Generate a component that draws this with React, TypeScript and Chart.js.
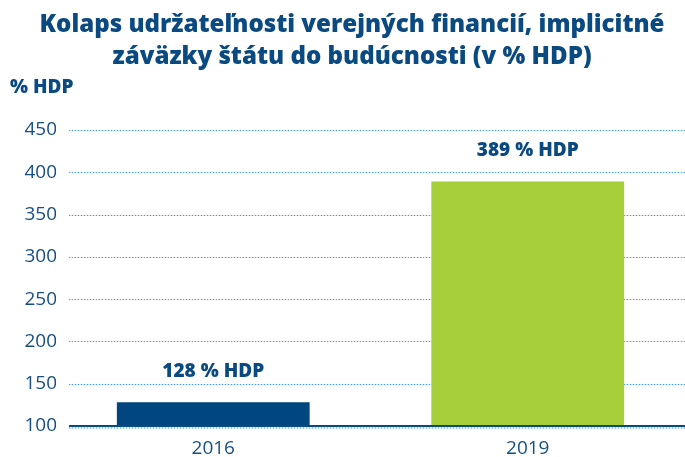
import React, { useEffect, useRef } from "react";
import { Chart, registerables } from "chart.js";

Chart.register(...registerables);

const titleLines = [
  "Kolaps udržateľnosti verejných financií, implicitné",
  "záväzky štátu do budúcnosti (v % HDP)",
];
const unitLabel = "% HDP";
const categories = ["2016", "2019"];
const values = [128, 389];
const valueLabels = ["128 % HDP", "389 % HDP"];
const barColors = ["#00467f", "#a6ce39"];
const yTicks = [100, 150, 200, 250, 300, 350, 400, 450];

const DARK = "#0b4a80";
const TICK = "#174f83";
const GRID_DOT = "#4aa6dd";
const GRID_BG = "#c2e3f6";
const FONT = "'Open Sans', sans-serif";

export default function App() {
  const ref = useRef<HTMLCanvasElement | null>(null);
  useEffect(() => {
    if (!ref.current) return;
    const textPlugin = {
      id: "texts",
      beforeDatasetsDraw(chart: any) {
        const ctx = chart.ctx;
        const y = chart.scales.y;
        const area = chart.chartArea;
        ctx.save();
        ctx.lineWidth = 1;
        yTicks.forEach((v) => {
          const py = Math.round(y.getPixelForValue(v)) + 0.5 + (v === 100 ? 1.5 : 0);
          ctx.setLineDash([]);
          ctx.strokeStyle = GRID_BG;
          ctx.beginPath();
          ctx.moveTo(area.left + 13, py);
          ctx.lineTo(area.right, py);
          ctx.stroke();
          ctx.setLineDash([1, 2]);
          ctx.strokeStyle = GRID_DOT;
          ctx.beginPath();
          ctx.moveTo(area.left + 13, py);
          ctx.lineTo(area.right, py);
          ctx.stroke();
        });
        ctx.restore();
      },
      afterDatasetsDraw(chart: any) {
        const ctx = chart.ctx;
        const y = chart.scales.y;
        const area = chart.chartArea;
        ctx.save();
        // axis line
        ctx.strokeStyle = DARK;
        ctx.lineWidth = 2;
        const by = y.getPixelForValue(100);
        ctx.beginPath();
        ctx.moveTo(area.left + 13, by);
        ctx.lineTo(area.right, by);
        ctx.stroke();
        // value labels
        const meta = chart.getDatasetMeta(0);
        ctx.fillStyle = DARK;
        ctx.font = `800 19px ${FONT}`;
        ctx.textAlign = "center";
        ctx.textBaseline = "middle";
        meta.data.forEach((bar: any, i: number) => {
          ctx.fillText(valueLabels[i], bar.x, bar.y - 30.5);
        });
        // title
        ctx.font = `800 24px ${FONT}`;
        const w = ctx.measureText(titleLines[0]).width;
        const sx = 625 / w;
        ctx.textBaseline = "alphabetic";
        titleLines.forEach((t, i) => {
          ctx.save();
          ctx.translate(352, 32 + i * 32);
          ctx.scale(sx, 1);
          ctx.fillText(t, 0, 0);
          ctx.restore();
        });
        // unit label
        ctx.font = `800 19px ${FONT}`;
        ctx.textAlign = "left";
        ctx.fillText(unitLabel, 10, 93);
        ctx.restore();
      },
    };
    const chart = new Chart(ref.current, {
      type: "bar",
      data: {
        labels: categories,
        datasets: [
          {
            data: values.map((v) => [100, v]),
            backgroundColor: barColors,
            borderWidth: 0,
            barPercentage: 0.613,
            categoryPercentage: 1,
          },
        ],
      },
      options: {
        responsive: false,
        animation: false,
        layout: { padding: { top: 130, left: 0, right: 0, bottom: 0 } },
        plugins: {
          legend: { display: false },
          tooltip: { enabled: false },
          title: { display: false },
        },
        scales: {
          x: {
            grid: { display: false, drawTicks: false },
            border: { display: false },
            ticks: {
              color: TICK,
              font: { family: FONT, size: 19 },
              padding: 11,
            },
            afterFit(scale: any) {
              scale.height = 31;
            },
          },
          y: {
            min: 100,
            max: 450,
            grid: { display: false, drawTicks: false },
            border: { display: false },
            afterBuildTicks(scale: any) {
              scale.ticks = yTicks.map((v) => ({ value: v }));
            },
            ticks: {
              color: TICK,
              font: { family: FONT, size: 19 },
              padding: -1,
            },
            afterFit(scale: any) {
              scale.width = 56;
            },
          },
        },
      },
      plugins: [textPlugin],
    });
    return () => chart.destroy();
  }, []);
  return (
    <div style={{ position: "fixed", left: 0, top: 0, width: 685, height: 457, background: "#fff" }}>
      <canvas ref={ref} width={685} height={457} style={{ display: "block" }} />
    </div>
  );
}
